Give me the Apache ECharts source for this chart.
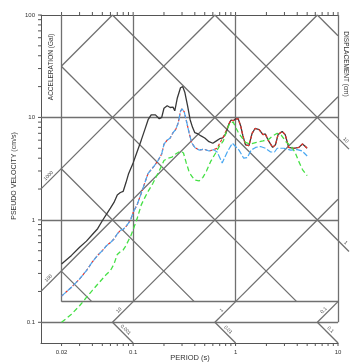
<!DOCTYPE html>
<html>
<head>
<meta charset="utf-8">
<script src="https://cdn.jsdelivr.net/npm/echarts@6/dist/echarts.min.js"></script>
<style>
html, body { margin: 0; padding: 0; background: #fff; }
#chart { width: 351px; height: 363px; }
</style>
</head>
<body>
<div id="chart"></div>
<script>
// period (s) / pseudo velocity (cm/s)
var periodBlack = [0.02,0.025,0.03,0.035,0.04,0.045,0.05,0.055,0.06,0.065,0.07,0.075,0.08,0.085,0.09,0.1,0.11,0.12,0.13,0.14,0.15,0.165,0.18,0.19,0.2,0.215,0.23,0.245,0.255,0.27,0.29,0.305,0.32,0.34,0.36,0.38,0.4,0.43,0.46,0.5,0.55,0.6,0.65,0.7,0.75,0.8,0.86,0.9,0.95,1.0,1.06,1.12,1.18,1.25,1.35,1.45,1.55,1.7,1.85,1.95,2.1,2.3,2.45,2.6,2.85,3.05,3.3,3.7,4.15,4.5,4.8,5.0]
var psvBlack = [0.37,0.45,0.54,0.62,0.72,0.82,0.98,1.14,1.3,1.48,1.75,1.85,1.9,2.3,2.8,3.6,4.7,6.0,7.6,9.5,10.6,10.6,9.7,10.0,12.3,13.0,12.5,12.6,11.6,15.5,19.5,20.0,17.5,13.0,9.5,8.0,7.1,6.9,6.6,6.3,5.8,5.6,5.9,6.2,6.3,6.9,8.6,9.4,9.3,9.7,9.7,8.3,6.6,5.4,5.3,7.0,7.8,7.6,6.8,6.9,5.9,5.1,5.4,6.8,7.3,6.8,5.1,5.0,5.1,5.5,5.2,5.0]

var periodRed = [0.02,0.025,0.03,0.035,0.04,0.045,0.05,0.055,0.06,0.065,0.07,0.075,0.08,0.085,0.09,0.095,0.1,0.105,0.11,0.115,0.12,0.13,0.14,0.15,0.16,0.175,0.19,0.2,0.215,0.23,0.245,0.26,0.275,0.29,0.3,0.315,0.335,0.355,0.375,0.4,0.44,0.49,0.55,0.61,0.66,0.7,0.77,0.83,0.86,0.9,0.95,1.0,1.06,1.12,1.18,1.25,1.35,1.45,1.55,1.7,1.85,1.95,2.1,2.3,2.45,2.6,2.85,3.05,3.3,3.7,4.15,4.5,4.8,5.0]
var psvRed = [0.18,0.22,0.265,0.32,0.39,0.45,0.5,0.56,0.6,0.65,0.73,0.79,0.81,0.86,0.93,1.02,1.18,1.3,1.43,1.62,1.82,2.3,2.85,3.1,3.35,3.8,4.4,5.5,6.0,6.3,7.1,7.6,8.8,11.5,12.1,11.4,8.8,6.8,5.6,5.1,4.8,4.9,4.7,4.85,5.0,5.6,6.6,7.9,8.6,9.4,9.3,9.7,9.7,8.3,6.6,5.4,5.3,7.0,7.8,7.6,6.8,6.9,5.9,5.1,5.4,6.8,7.3,6.8,5.1,5.0,5.1,5.5,5.2,5.0]

var periodBlue = [0.02,0.025,0.03,0.035,0.04,0.045,0.05,0.055,0.06,0.065,0.07,0.075,0.08,0.085,0.09,0.095,0.1,0.105,0.11,0.115,0.12,0.13,0.14,0.15,0.16,0.175,0.19,0.2,0.215,0.23,0.245,0.26,0.275,0.29,0.3,0.315,0.335,0.355,0.375,0.4,0.44,0.49,0.55,0.61,0.66,0.74,0.83,0.93,1.0,1.08,1.2,1.3,1.42,1.57,1.75,1.96,2.2,2.4,2.55,2.96,3.44,4.0,4.47,5.0]
var psvBlue = [0.18,0.22,0.265,0.32,0.39,0.45,0.5,0.56,0.6,0.65,0.73,0.79,0.81,0.86,0.93,1.02,1.18,1.3,1.43,1.62,1.82,2.3,2.85,3.1,3.35,3.8,4.4,5.5,6.0,6.3,7.1,7.6,8.8,11.5,12.1,11.4,8.8,6.8,5.6,5.1,4.8,4.9,4.7,4.85,4.6,3.6,4.6,5.6,5.2,4.8,4.0,4.05,4.8,5.1,5.2,5.0,4.6,4.6,5.0,5.0,4.8,4.85,4.7,4.2]

var periodGreen = [0.02,0.025,0.03,0.035,0.04,0.045,0.05,0.055,0.06,0.065,0.07,0.075,0.08,0.085,0.09,0.095,0.1,0.105,0.11,0.12,0.13,0.14,0.155,0.17,0.185,0.2,0.22,0.24,0.26,0.29,0.31,0.33,0.35,0.37,0.4,0.44,0.48,0.52,0.57,0.63,0.7,0.76,0.82,0.88,0.95,1.0,1.06,1.12,1.25,1.4,1.6,1.85,2.1,2.3,2.55,2.8,3.1,3.5,3.8,4.1,4.5,5.0]
var psvGreen = [0.10,0.12,0.145,0.175,0.205,0.235,0.265,0.295,0.32,0.37,0.46,0.49,0.51,0.56,0.63,0.70,0.80,0.92,1.05,1.4,1.65,1.9,2.25,2.7,3.2,3.8,4.0,4.1,4.4,4.7,4.5,3.6,3.0,2.7,2.45,2.4,2.6,3.0,3.7,4.4,5.3,5.9,7.5,8.8,9.0,8.0,7.2,6.6,5.7,5.5,5.7,5.9,6.1,6.6,7.0,6.7,5.8,5.2,4.6,3.8,3.1,2.7]

// axes and tripartite grid
var xMin = 0.0126, xMax = 10
var yMin = 0.0628, yMax = 100
var TWO_PI = 2 * Math.PI
var boxLeft = 0.02, boxBottom = 1 / TWO_PI
var vLines = [0.02, 0.1, 1]
var hLines = [1, 10]
var accelLevels = [10000, 1000, 100, 10, 1]          // Gal
var dispLevels = [0.001, 0.01, 0.1, 1, 10, 100]      // cm
var accelBottomLabels = [10, 1, 0.1]
var dispBottomLabels = [0.001, 0.01, 0.1]
var accelLeftLabels = [1000, 100]
var dispRightLabels = [10, 1]
var xTicks = [0.02,0.03,0.04,0.05,0.06,0.07,0.08,0.09,0.1,0.2,0.3,0.4,0.5,0.6,0.7,0.8,0.9,1,2,3,4,5,6,7,8,9,10]
var yTicks = [0.1,0.2,0.3,0.4,0.5,0.6,0.7,0.8,0.9,1,2,3,4,5,6,7,8,9,10,20,30,40,50,60,70,80,90,100]
var xLabelVals = [0.02, 0.1, 1, 10]
var xLabelText = ['0.02', '0.1', '1', '10']
var yLabelVals = [0.1, 1, 10, 100]
var yLabelText = ['0.1', '1', '10', '100']

function pairs(xs, ys) {
    var out = []
    for (var i = 0; i < Math.min(xs.length, ys.length); i++) out.push([xs[i], ys[i]])
    return out
}
function accelPt(a, t) { return [t, a * t / TWO_PI] }
function dispPt(d, t) { return [t, TWO_PI * d / t] }

var segs = []
function seg(p, q) { segs.push({ coords: [p, q] }) }
vLines.forEach(function (t) { seg([t, boxBottom], [t, yMax]) })
seg([xMax, 0.1], [xMax, yMax])
hLines.forEach(function (v) { seg([xMin, v], [xMax, v]) })
seg([xMin, 0.1], [xMax, 0.1])
seg([boxLeft, boxBottom], [xMax, boxBottom])
accelLevels.forEach(function (a) {
    var t0 = Math.max(boxLeft, TWO_PI * boxBottom / a)
    var t1 = Math.min(xMax, TWO_PI * yMax / a)
    if (t1 > t0) seg(accelPt(a, t0), accelPt(a, t1))
})
dispLevels.forEach(function (d) {
    var t0 = Math.max(boxLeft, TWO_PI * d / yMax)
    var t1 = Math.min(xMax, TWO_PI * d / boxBottom)
    if (t1 > t0) seg(dispPt(d, t0), dispPt(d, t1))
})
// short label legs outside the box
accelBottomLabels.forEach(function (a) { seg(accelPt(a, TWO_PI * 0.1 / a), accelPt(a, TWO_PI * boxBottom / a)) })
dispBottomLabels.forEach(function (d) { seg(dispPt(d, TWO_PI * d / 0.1), dispPt(d, TWO_PI * d / yMin)) })
accelLeftLabels.forEach(function (a) { seg(accelPt(a, xMin), accelPt(a, boxLeft)) })
dispRightLabels.forEach(function (d) { seg(dispPt(d, xMax), dispPt(d, 12.8)) })

var diagLabels = []
accelBottomLabels.forEach(function (a) { diagLabels.push({ p: accelPt(a, TWO_PI * 0.1 / a), q: accelPt(a, TWO_PI * boxBottom / a), f: 0.45, up: true, text: String(a) }) })
dispBottomLabels.forEach(function (d) { diagLabels.push({ p: dispPt(d, TWO_PI * d / 0.1), q: dispPt(d, TWO_PI * d / yMin), f: 0.5, up: false, text: String(d) }) })
accelLeftLabels.forEach(function (a) { diagLabels.push({ p: accelPt(a, xMin), q: accelPt(a, boxLeft), f: 0.5, up: true, text: String(a) }) })
dispRightLabels.forEach(function (d) { diagLabels.push({ p: dispPt(d, xMax), q: dispPt(d, 12.8), f: 0.45, up: false, text: String(d) }) })

var gridColor = '#707070'
var axisColor = '#555'
var font = 'Liberation Sans'

var myChart = echarts.init(document.getElementById('chart'))
myChart.setOption({
    animation: false,
    grid: { left: 41, right: 13, top: 15, bottom: 20 },
    xAxis: [
        {
            type: 'log', logBase: 10, min: xMin, max: xMax, position: 'bottom',
            axisLine: { show: true, onZero: false, lineStyle: { color: axisColor, width: 1 } },
            axisTick: { show: false }, axisLabel: { show: false }, splitLine: { show: false }
        },
        {
            type: 'log', logBase: 10, min: xMin, max: xMax, position: 'top',
            axisLine: { show: true, onZero: false, lineStyle: { color: axisColor, width: 1 } },
            axisTick: { show: false }, axisLabel: { show: false }, splitLine: { show: false }
        }
    ],
    yAxis: {
        type: 'log', logBase: 10, min: yMin, max: yMax,
        axisLine: { show: true, onZero: false, lineStyle: { color: axisColor, width: 1 } },
        axisTick: { show: false }, axisLabel: { show: false }, splitLine: { show: false }
    },
    graphic: [
        { type: 'text', x: 14, y: 176, rotation: Math.PI / 2, style: { text: 'PSEUDO VELOCITY (cm/s)', font: '7px ' + font, fill: '#333', align: 'center', verticalAlign: 'middle' } },
        { type: 'text', x: 51, y: 67, rotation: Math.PI / 2, style: { text: 'ACCELERATION (Gal)', font: '6.5px ' + font, fill: '#333', align: 'center', verticalAlign: 'middle' } },
        { type: 'text', x: 346, y: 64, rotation: -Math.PI / 2, style: { text: 'DISPLACEMENT (cm)', font: '6.5px ' + font, fill: '#333', align: 'center', verticalAlign: 'middle' } },
        { type: 'text', x: 190, y: 358, style: { text: 'PERIOD (s)', font: '7.5px ' + font, fill: '#333', align: 'center', verticalAlign: 'middle' } }
    ],
    series: [
        {
            type: 'lines', coordinateSystem: 'cartesian2d', polyline: false, silent: true, clip: false,
            lineStyle: { color: gridColor, width: 1.3, opacity: 1 },
            data: segs
        },
        {
            // tick marks
            type: 'custom', silent: true, clip: false,
            data: xTicks.map(function (t) { return [t, yMin] }).concat(yTicks.map(function (v) { return [xMin, v] })),
            renderItem: function (params, api) {
                var i = params.dataIndex
                var st = { stroke: axisColor, lineWidth: 1 }
                if (i < xTicks.length) {
                    var b = api.coord([xTicks[i], yMin]), t = api.coord([xTicks[i], yMax])
                    return { type: 'group', children: [
                        { type: 'line', shape: { x1: b[0], y1: b[1], x2: b[0], y2: b[1] + 3 }, style: st },
                        { type: 'line', shape: { x1: t[0], y1: t[1], x2: t[0], y2: t[1] - 3 }, style: st }
                    ] }
                }
                var p = api.coord([xMin, yTicks[i - xTicks.length]])
                return { type: 'line', shape: { x1: p[0] - 3, y1: p[1], x2: p[0], y2: p[1] }, style: st }
            }
        },
        {
            // tick labels
            type: 'custom', silent: true, clip: false,
            data: xLabelVals.map(function (t) { return [t, yMin] }).concat(yLabelVals.map(function (v) { return [xMin, v] })),
            renderItem: function (params, api) {
                var i = params.dataIndex
                if (i < xLabelVals.length) {
                    var b = api.coord([xLabelVals[i], yMin])
                    return { type: 'text', x: b[0], y: b[1] + 9, style: { text: xLabelText[i], font: '6px ' + font, fill: '#333', align: 'center', verticalAlign: 'middle' } }
                }
                var k = i - xLabelVals.length
                var p = api.coord([xMin, yLabelVals[k]])
                return { type: 'text', x: p[0] - 6, y: p[1], style: { text: yLabelText[k], font: '6px ' + font, fill: '#333', align: 'right', verticalAlign: 'middle' } }
            }
        },
        {
            // labels on the diagonal legs
            type: 'custom', silent: true, clip: false,
            data: diagLabels.map(function (d) { return d.p }),
            renderItem: function (params, api) {
                var d = diagLabels[params.dataIndex]
                var p = api.coord(d.p), q = api.coord(d.q)
                var x = p[0] + (q[0] - p[0]) * d.f, y = p[1] + (q[1] - p[1]) * d.f
                x += d.up ? -2.8 : 2.8
                y -= 2.8
                return { type: 'text', x: x, y: y, rotation: d.up ? Math.PI / 4 : -Math.PI / 4,
                    style: { text: d.text, font: '5px ' + font, fill: '#444', align: 'center', verticalAlign: 'middle' } }
            }
        },
        {
            name: 'black', type: 'line', showSymbol: false, symbol: 'none', silent: true,
            lineStyle: { color: '#383838', width: 1.3 },
            data: pairs(periodBlack, psvBlack)
        },
        {
            name: 'red', type: 'line', showSymbol: false, symbol: 'none', silent: true,
            lineStyle: { color: '#e8332b', width: 1.2, type: [3, 2] },
            data: pairs(periodRed, psvRed)
        },
        {
            name: 'blue', type: 'line', showSymbol: false, symbol: 'none', silent: true,
            lineStyle: { color: '#4aa8f2', width: 1.2, type: [6, 2] },
            data: pairs(periodBlue, psvBlue)
        },
        {
            name: 'green', type: 'line', showSymbol: false, symbol: 'none', silent: true,
            lineStyle: { color: '#46e046', width: 1.3, type: [5, 3] },
            data: pairs(periodGreen, psvGreen)
        }
    ]
})
</script>
</body>
</html>
